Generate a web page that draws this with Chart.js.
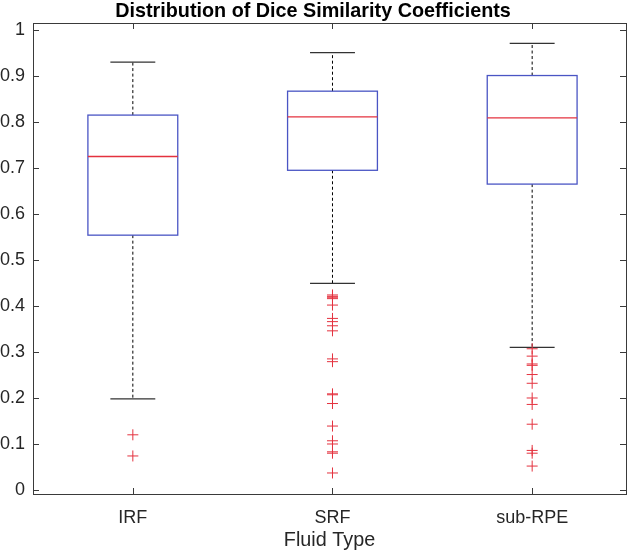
<!DOCTYPE html>
<html>
<head>
<meta charset="utf-8">
<script src="https://cdn.jsdelivr.net/npm/chart.js@4.4.1/dist/chart.umd.min.js"></script>
<style>
  html, body { margin: 0; padding: 0; background: #fff; }
  #wrap { width: 633px; height: 553px; }
</style>
</head>
<body>
<div id="wrap"><canvas id="c" width="633" height="553"></canvas></div>
<script>
// ---- data ----
const categories = ['IRF', 'SRF', 'sub-RPE'];
const whiskerLow  = [0.198, 0.449, 0.310];
const q1          = [0.554, 0.695, 0.665];
const medians     = [0.725, 0.811, 0.809];
const q3          = [0.815, 0.867, 0.901];
const whiskerHigh = [0.930, 0.951, 0.971];
const irfOutliers = [0.120, 0.074];
const srfOutliers = [0.424, 0.421, 0.419, 0.416, 0.402, 0.373, 0.366, 0.357, 0.346,
                     0.285, 0.279, 0.209, 0.207, 0.188, 0.139, 0.107, 0.100, 0.083, 0.080, 0.037];
const subRpeOutliers = [0.307, 0.291, 0.274, 0.271, 0.251, 0.232, 0.200, 0.186, 0.143,
                        0.086, 0.080, 0.052];
const yTickValues = [0, 0.1, 0.2, 0.3, 0.4, 0.5, 0.6, 0.7, 0.8, 0.9, 1];
const yTickLabels = ['0', '0.1', '0.2', '0.3', '0.4', '0.5', '0.6', '0.7', '0.8', '0.9', '1'];

const outlierGroups = [irfOutliers, srfOutliers, subRpeOutliers];
const outlierPoints = [];
outlierGroups.forEach((arr, i) => arr.forEach(v => outlierPoints.push({ x: i + 1, y: v })));

const FONT = '"Liberation Sans", Arial, Helvetica, sans-serif';
const AXIS_COLOR = '#3a3a3a';
const BOX_HALF = 0.225;
const CAP_HALF = 0.1125;

const boxPlugin = {
  id: 'boxPlugin',
  beforeDatasetsDraw(chart) {
    const { ctx, scales: { x, y } } = chart;
    ctx.save();
    for (let i = 0; i < categories.length; i++) {
      const cx = x.getPixelForValue(i + 1);
      const xl = x.getPixelForValue(i + 1 - BOX_HALF);
      const xr = x.getPixelForValue(i + 1 + BOX_HALF);
      const cl = x.getPixelForValue(i + 1 - CAP_HALF);
      const cr = x.getPixelForValue(i + 1 + CAP_HALF);
      const yq1 = y.getPixelForValue(q1[i]);
      const yq3 = y.getPixelForValue(q3[i]);
      const ym = y.getPixelForValue(medians[i]);
      const ylo = y.getPixelForValue(whiskerLow[i]);
      const yhi = y.getPixelForValue(whiskerHigh[i]);
      // whiskers (dashed)
      ctx.strokeStyle = '#000';
      ctx.lineWidth = 1;
      ctx.setLineDash([3, 2.5]);
      ctx.beginPath();
      ctx.moveTo(cx, yq3); ctx.lineTo(cx, yhi);
      ctx.moveTo(cx, yq1); ctx.lineTo(cx, ylo);
      ctx.stroke();
      ctx.setLineDash([]);
      // caps
      ctx.strokeStyle = '#333';
      ctx.lineWidth = 1.2;
      ctx.beginPath();
      ctx.moveTo(cl, yhi); ctx.lineTo(cr, yhi);
      ctx.moveTo(cl, ylo); ctx.lineTo(cr, ylo);
      ctx.stroke();
      // box
      ctx.strokeStyle = '#4a55c4';
      ctx.lineWidth = 1.3;
      ctx.strokeRect(xl, yq3, xr - xl, yq1 - yq3);
      // median
      ctx.strokeStyle = '#e4323f';
      ctx.lineWidth = 1.3;
      ctx.beginPath();
      ctx.moveTo(xl, ym); ctx.lineTo(xr, ym);
      ctx.stroke();
    }
    ctx.restore();
  },
  afterDraw(chart) {
    const { ctx, chartArea: a, scales: { x, y } } = chart;
    ctx.save();
    ctx.strokeStyle = AXIS_COLOR;
    ctx.lineWidth = 1;
    ctx.strokeRect(Math.round(a.left) + 0.5, Math.round(a.top) + 0.5,
                   Math.round(a.right - a.left), Math.round(a.bottom - a.top));
    const TL = 6;
    ctx.beginPath();
    yTickValues.forEach(v => {
      const py = Math.round(y.getPixelForValue(v)) + 0.5;
      ctx.moveTo(a.left, py); ctx.lineTo(a.left + TL, py);
      ctx.moveTo(a.right, py); ctx.lineTo(a.right - TL, py);
    });
    categories.forEach((c, i) => {
      const px = Math.round(x.getPixelForValue(i + 1)) + 0.5;
      ctx.moveTo(px, a.bottom); ctx.lineTo(px, a.bottom - TL);
      ctx.moveTo(px, a.top); ctx.lineTo(px, a.top + TL);
    });
    ctx.stroke();
    ctx.restore();
  }
};

new Chart(document.getElementById('c'), {
  type: 'scatter',
  data: {
    datasets: [{
      label: 'Outliers',
      data: outlierPoints,
      pointStyle: 'cross',
      pointRadius: 5.5,
      pointHoverRadius: 5.5,
      borderColor: '#e4323f',
      backgroundColor: '#e4323f',
      borderWidth: 1,
      showLine: false
    }]
  },
  options: {
    responsive: false,
    animation: false,
    devicePixelRatio: 1,
    layout: { padding: { left: 0, right: 7, top: 0, bottom: 0 } },
    plugins: {
      legend: { display: false },
      tooltip: { enabled: false },
      title: {
        display: true,
        text: 'Distribution of Dice Similarity Coefficients',
        color: '#000',
        font: { family: FONT, size: 19.8, weight: 'bold', lineHeight: 1.0 },
        padding: { top: 1.2, bottom: 2 }
      }
    },
    scales: {
      x: {
        type: 'linear',
        min: 0.5,
        max: 3.47,
        afterFit(scale) { scale.height = 59; },
        afterBuildTicks(scale) { scale.ticks = categories.map((c, i) => ({ value: i + 1 })); },
        grid: { display: false, drawTicks: false },
        border: { display: false },
        ticks: {
          color: '#262626',
          font: { family: FONT, size: 18 },
          padding: 13,
          maxRotation: 0,
          autoSkip: false,
          callback: (v) => categories[Math.round(v) - 1] || ''
        },
        title: {
          display: true,
          text: 'Fluid Type',
          color: '#262626',
          font: { family: FONT, size: 19.8 },
          padding: { top: 0, bottom: 0.5 }
        }
      },
      y: {
        type: 'linear',
        min: -0.0087,
        max: 1.0152,
        afterFit(scale) { scale.width = 33; },
        afterBuildTicks(scale) { scale.ticks = yTickValues.map(v => ({ value: v })); },
        grid: { display: false, drawTicks: false },
        border: { display: false },
        ticks: {
          color: '#262626',
          font: { family: FONT, size: 18 },
          padding: 8,
          autoSkip: false,
          callback: (v) => {
            const idx = yTickValues.findIndex(t => Math.abs(t - v) < 1e-6);
            return idx >= 0 ? yTickLabels[idx] : '';
          }
        }
      }
    }
  },
  plugins: [boxPlugin]
});
</script>
</body>
</html>
